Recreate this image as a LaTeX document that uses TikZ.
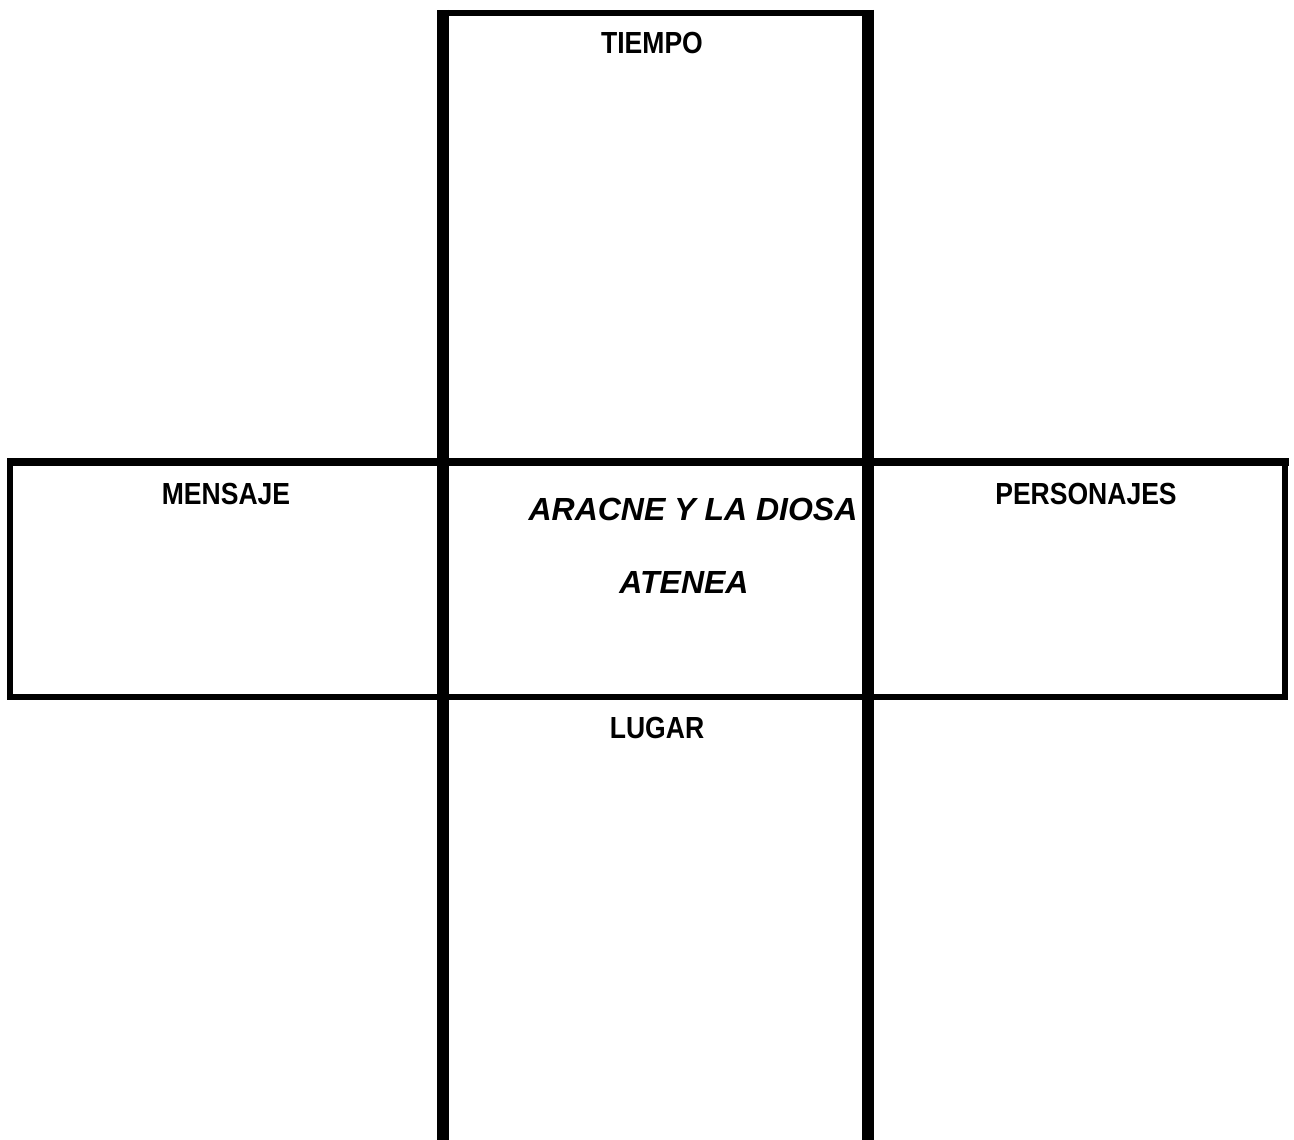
\documentclass[tikz,border=0pt]{standalone}
\usepackage{fontspec}
\setmainfont{Liberation Sans}
\newfontfamily\narrowfont[FakeStretch=0.87]{Liberation Sans}
\usepackage{tikz}
\usetikzlibrary{positioning}

\tikzset{
  bar/.style={draw=black,line cap=butt},
  label/.style={font=\narrowfont\bfseries\fontsize{30.5}{34}\selectfont,anchor=base,inner sep=0pt},
  title/.style={font=\bfseries\itshape\fontsize{32}{36}\selectfont,anchor=base,inner sep=0pt}
}

\begin{document}
\begin{tikzpicture}[x=1pt,y=-1pt]
      \useasboundingbox (0,0) rectangle (1294,1140);
      % vertical strip
      \draw[bar,line width=12pt] (443,10) -- (443,1140);
      \draw[bar,line width=12pt] (868,10) -- (868,1140);
      \draw[bar,line width=6pt] (437,13) -- (874,13);
      % horizontal strip
      \draw[bar,line width=8pt] (7,462) -- (1289,462);
      \draw[bar,line width=6pt] (7,697) -- (1288,697);
      \draw[bar,line width=6pt] (10,458) -- (10,700);
      \draw[bar,line width=5.5pt] (1285,458) -- (1285,700);
      % labels
      \node[label] (tiempo) at (652,54) {TIEMPO};
      \node[label] (mensaje) at (226,504) {MENSAJE};
      \node[label] (personajes) at (1086,504) {PERSONAJES};
      \node[label] (lugar) at (657,738) {LUGAR};
      % title
      \node[title] (titulo) at (693,520) {ARACNE Y LA DIOSA};
      \node[title] (atenea) at (684,593) {ATENEA};
    \end{tikzpicture}
\end{document}
